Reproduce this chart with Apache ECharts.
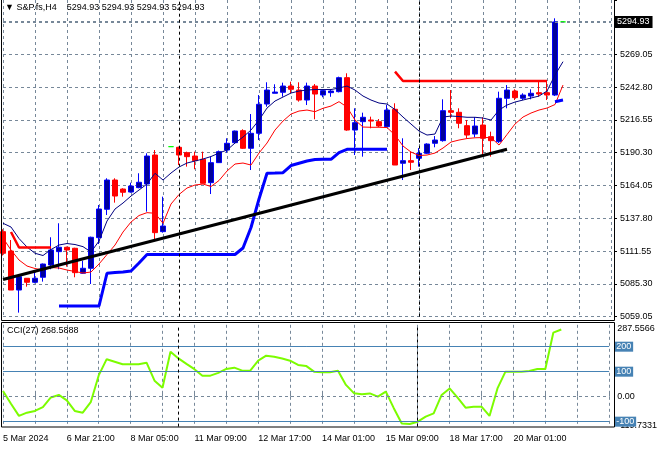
<!DOCTYPE html>
<html><head><meta charset="utf-8">
<script src="https://cdn.jsdelivr.net/npm/echarts@6/dist/echarts.min.js"></script>
<style>html,body{margin:0;padding:0;background:#fff}#c{width:660px;height:450px}</style>
</head><body><div id="c"></div>
<script>
// ---- data ----
const timeLabels = ['5 Mar 2024','6 Mar 21:00','8 Mar 05:00','11 Mar 09:00','12 Mar 17:00','14 Mar 01:00','15 Mar 09:00','18 Mar 17:00','20 Mar 01:00'];
const openP  = [5127.1,5111.6,5080.4,5089.8,5086.6,5090.6,5100.4,5111.1,5114.6,5113.8,
                5093.8,5097.8,5122.3,5145.0,5168.4,5161.2,5158.8,5162.3,5165.2,5188.4,
                5127.1,5195.1,5194.6,5190.3,5187.6,5185.0,5166.3,5182.3,5192.4,5198.3,
                5207.9,5193.8,5205.8,5229.2,5237.8,5238.6,5243.6,5240.4,5232.4,5243.6,
                5236.4,5238.3,5239.1,5250.3,5208.4,5215.1,5216.4,5215.1,5211.1,5225.0,
                5181.8,5183.9,5185.8,5189.8,5197.8,5199.9,5223.9,5222.6,5211.9,5205.2,
                5212.4,5203.1,5199.1,5233.8,5239.6,5233.8,5235.6,5238.3,5238.3,5236.4,5294.93];
const closeP = [5109.8,5080.4,5091.1,5086.6,5089.8,5101.2,5112.4,5114.6,5112.4,5094.3,
                5097.8,5122.6,5145.2,5168.4,5155.6,5158.6,5163.6,5166.6,5187.6,5126.3,
                5131.6,5195.1,5188.4,5187.1,5183.9,5165.8,5182.3,5191.1,5197.8,5207.6,
                5193.8,5205.8,5229.0,5240.4,5238.8,5243.6,5241.0,5232.4,5243.6,5237.2,
                5239.9,5239.6,5250.3,5208.4,5214.3,5218.6,5215.6,5211.6,5224.4,5180.4,
                5183.9,5182.6,5189.8,5197.2,5200.4,5223.9,5222.6,5213.8,5204.4,5211.6,
                5201.8,5199.9,5233.8,5240.4,5234.3,5236.4,5237.8,5237.2,5236.4,5294.9,5294.93];
const lowP   = [5108.0,5080.4,5062.3,5083.1,5085.8,5087.1,5097.0,5097.0,5099.1,5090.6,
                5093.4,5085.2,5117.2,5140.4,5150.3,5155.1,5158.3,5161.8,5143.1,5120.4,
                5126.3,5195.1,5180.4,5179.1,5177.0,5165.8,5157.2,5182.0,5190.3,5197.8,
                5193.4,5176.4,5200.4,5227.1,5237.8,5235.1,5237.8,5231.1,5228.4,5217.0,
                5234.6,5235.0,5238.5,5207.8,5188.4,5187.1,5209.8,5210.8,5210.8,5180.4,
                5168.4,5176.4,5179.1,5189.2,5194.6,5199.1,5217.8,5209.8,5201.8,5202.6,
                5188.4,5187.1,5198.0,5225.8,5232.4,5232.4,5233.0,5235.1,5232.4,5235.6,5294.93];
const highP  = [5129.0,5120.4,5091.5,5090.0,5095.1,5101.6,5122.6,5133.8,5115.1,5114.2,
                5103.9,5123.1,5148.4,5169.8,5169.8,5161.8,5166.3,5173.8,5189.8,5192.4,
                5155.1,5195.1,5195.1,5191.1,5191.1,5191.1,5187.1,5192.0,5201.8,5208.0,
                5209.0,5221.2,5236.4,5246.6,5245.0,5246.3,5247.1,5246.6,5246.3,5245.2,
                5240.4,5240.4,5251.1,5253.8,5225.8,5222.3,5219.1,5217.2,5228.4,5229.8,
                5201.8,5191.1,5194.0,5197.8,5203.6,5233.0,5240.4,5225.8,5216.4,5218.6,
                5218.6,5207.1,5239.1,5244.4,5241.0,5237.8,5241.0,5247.4,5247.4,5297.8,5294.93];
const upperMA = [5133.8,5130.8,5121.6,5114.8,5109.8,5108.0,5112.8,5116.4,5117.6,5116.8,
                 5115.1,5110.8,5119.6,5135.6,5145.2,5150.0,5155.6,5160.4,5165.2,5173.8,
                 5168.4,5174.0,5178.8,5182.0,5183.6,5185.2,5187.2,5190.0,5192.4,5198.0,
                 5202.8,5208.4,5216.4,5226.0,5231.6,5234.8,5238.0,5239.6,5240.4,5240.8,
                 5240.8,5240.8,5242.0,5243.6,5240.4,5235.6,5232.4,5230.0,5229.2,5224.8,
                 5218.8,5213.2,5207.6,5204.4,5205.2,5218.8,5219.6,5219.2,5218.6,5218.6,
                 5218.0,5216.4,5224.4,5228.4,5230.8,5232.4,5234.0,5235.6,5239.6,5252.4,5263.1];
const lowerMA = [5122.0,5112.4,5104.4,5099.6,5097.6,5096.4,5098.4,5098.0,5096.4,5095.2,
                 5094.0,5094.8,5101.2,5108.8,5116.4,5126.8,5134.8,5140.0,5142.3,5141.8,
                 5133.8,5149.2,5156.8,5162.0,5164.4,5165.2,5163.2,5168.0,5175.6,5181.2,
                 5182.0,5180.4,5190.0,5198.0,5208.4,5215.6,5221.2,5223.6,5224.4,5223.1,
                 5225.8,5227.6,5231.1,5226.8,5216.4,5210.8,5210.6,5210.6,5210.4,5204.4,
                 5195.6,5190.8,5188.0,5188.4,5190.0,5194.0,5198.8,5200.4,5201.6,5202.2,
                 5202.4,5202.4,5196.4,5204.8,5213.2,5218.8,5222.0,5224.4,5226.0,5228.8,5244.4];
const resistance = [null,5126.8,5114.4,5114.4,5114.4,5114.4,5114.4,null,null,null,
                    null,null,null,null,null,null,null,null,null,null,
                    null,null,null,null,null,null,null,null,null,null,
                    null,null,null,null,null,null,null,null,null,null,
                    null,null,null,null,null,null,null,null,null,5255.1,
                    5247.6,5247.6,5247.6,5247.6,5247.6,5247.6,5247.6,5247.6,5247.6,5247.6,
                    5247.6,5247.6,5247.6,5247.6,5247.6,5247.6,5247.6,5247.6,5247.6,null,null];
const support = [null,null,null,null,null,null,null,5067.6,5067.6,5067.6,
                 5067.6,5067.6,5067.6,5093.8,5094.4,5094.8,5095.6,5102.0,5108.8,5108.8,
                 5108.8,5108.8,5108.8,5108.8,5108.8,5108.8,5108.8,5108.8,5108.8,5108.8,
                 5114.0,5130.4,5153.2,5173.8,5174.0,5174.3,5180.0,5181.8,5183.6,5184.8,
                 5185.0,5185.0,5190.4,5193.0,5193.0,5193.0,5193.0,5193.0,5193.0,null,
                 null,null,null,null,null,null,null,null,null,null,
                 null,null,null,null,null,null,null,null,null,5231.1,5232.4];
const trendLine = [[0, 5088.8], [63, 5193.0]];
const cci = [23,-28,-77,-64,-57,-42,-3,7,-15,-57,
             -64,-22,85,150,140,130,130,130,136,64,
             36,180,153,131,110,84,84,95,111,116,
             104,104,144,164,160,153,144,127,123,100,
             98,98,104,47,14,10,13,0,20,-46,
             -107,-109,-100,-80,-67,7,33,-4,-44,-40,
             -40,-77,33,100,100,100,103,111,111,256,268.5888];
const bidPrice = 5294.93;
const weekStarts = [22, 52];
const cciLevels = [200, 100, -100];
const cciMax = 287.5566, cciMin = -119.7331;
const priceMin = 5059.05, priceMax = 5312.44, priceStep = 26.25;
const barCount = 77;

// ---- chart ----
const FONT = '"Liberation Sans", Arial, sans-serif';
const GRIDC = '#778899';
const cats = Array.from({length: barCount}, (_, i) => String(i));
const candles = openP.map((o, i) => [o, closeP[i], lowP[i], highP[i]]);
const txt = {fontFamily: FONT, fontSize: 9, color: '#000'};
const near = (a, b) => Math.abs(a - b) < 1e-6;

const chart = echarts.init(document.getElementById('c'), null, {renderer: 'canvas'});
chart.setOption({
  animation: false,
  backgroundColor: '#fff',
  title: [
    {text: '\u25BC S&P.fs,H4    5294.93 5294.93 5294.93 5294.93', left: 5, top: 3, padding: 0,
     textStyle: Object.assign({fontWeight: 'normal'}, txt)},
    {text: 'CCI(27) 268.5888', left: 7, top: 326, padding: 0,
     textStyle: Object.assign({fontWeight: 'normal'}, txt)}
  ],
  grid: [
    {left: 3, width: 608, top: 0, height: 316.7},
    {left: 3, width: 608, top: 324.8, height: 101.8}
  ],
  xAxis: [
    {type: 'category', gridIndex: 0, data: cats, boundaryGap: false,
     axisLine: {show: false}, axisTick: {show: false}, axisLabel: {show: false},
     splitLine: {show: true, interval: 3, lineStyle: {color: GRIDC, type: [3, 3], width: 1}}},
    {type: 'category', gridIndex: 1, data: cats, boundaryGap: false,
     axisLine: {show: false},
     axisTick: {show: true, inside: true, length: 4, interval: 3, lineStyle: {color: GRIDC}},
     axisLabel: Object.assign({interval: 0, align: 'left', margin: 7,
       formatter: (v, i) => (i % 8 === 0 && timeLabels[i / 8]) ? timeLabels[i / 8] : ''}, txt),
     splitLine: {show: true, interval: 3, lineStyle: {color: GRIDC, type: [3, 3], width: 1}}}
  ],
  yAxis: [
    {type: 'value', gridIndex: 0, position: 'right', offset: 3,
     min: priceMin, max: priceMax, interval: priceStep,
     axisLine: {show: false},
     axisTick: {show: true, length: 3, lineStyle: {color: '#000'}},
     axisLabel: Object.assign({margin: 6, formatter: v => v > 5290 ? '' : v.toFixed(2)}, txt),
     splitLine: {show: true, showMaxLine: false, lineStyle: {color: GRIDC, type: [3, 3], width: 1}}},
    {type: 'value', gridIndex: 1, position: 'right', offset: 3,
     min: cciMin, max: cciMax,
     axisLine: {show: false}, axisTick: {show: false},
     axisLabel: Object.assign({margin: 5, showMinLabel: true, showMaxLabel: true,
       formatter: v => near(v, cciMax) ? '{top|' + cciMax.toFixed(4) + '}'
                     : near(v, cciMin) ? '{bot|' + cciMin.toFixed(4) + '}'
                     : near(v, 0) ? '0.00' : '',
       rich: {top: {fontFamily: FONT, fontSize: 9, color: '#000', padding: [7, 0, 0, 0]},
              bot: {fontFamily: FONT, fontSize: 9, color: '#000', padding: [0, 0, 3, 0]}}}, txt),
     splitLine: {show: false}}
  ],
  series: [
    {type: 'candlestick', xAxisIndex: 0, yAxisIndex: 0, data: candles, barWidth: 5, clip: false,
     itemStyle: {color: '#000099', borderColor: '#0000FF', color0: '#FF0000', borderColor0: '#FF0000',
                 borderColorDoji: '#00FF00', borderWidth: 1},
     markLine: {symbol: ['none', 'none'], silent: true, animation: false,
       data: [
         {yAxis: bidPrice, lineStyle: {color: GRIDC, type: [3, 3], width: 1},
          label: Object.assign({show: true, position: 'end', distance: 3, formatter: bidPrice.toFixed(2),
                 backgroundColor: '#000', padding: [2, 3, 1, 3]}, txt, {color: '#fff'})}
       ].concat(weekStarts.map(w => ({xAxis: String(w), lineStyle: {color: '#000', type: [3, 3], width: 1},
                                     label: {show: false}})))
     }},
    {type: 'line', xAxisIndex: 0, yAxisIndex: 0, data: upperMA, showSymbol: false,
     lineStyle: {color: '#000080', width: 1}},
    {type: 'line', xAxisIndex: 0, yAxisIndex: 0, data: lowerMA, showSymbol: false,
     lineStyle: {color: '#FF0000', width: 1}},
    {type: 'line', xAxisIndex: 0, yAxisIndex: 0, data: resistance, showSymbol: false, connectNulls: false,
     lineStyle: {color: '#FF0000', width: 2.5}},
    {type: 'line', xAxisIndex: 0, yAxisIndex: 0, data: support, showSymbol: false, connectNulls: false,
     lineStyle: {color: '#0000FF', width: 3}},
    {type: 'line', xAxisIndex: 0, yAxisIndex: 0, data: trendLine, showSymbol: false,
     lineStyle: {color: '#000', width: 3}},
    {type: 'line', xAxisIndex: 1, yAxisIndex: 1, data: cci, showSymbol: false,
     lineStyle: {color: '#7CFC00', width: 2},
     markLine: {symbol: ['none', 'none'], silent: true, animation: false,
       data: [
         {yAxis: 0, lineStyle: {color: GRIDC, type: [3, 3], width: 1}, label: {show: false}}
       ].concat(cciLevels.map(v => ({yAxis: v, lineStyle: {color: '#4682B4', type: 'solid', width: 1},
          label: Object.assign({show: true, position: 'end', distance: 5, formatter: String(v),
                 backgroundColor: '#4682B4', padding: [1, 2, 0, 2]}, txt, {color: '#fff'})})))
        .concat(weekStarts.map(w => ({xAxis: String(w), lineStyle: {color: '#000', type: [3, 3], width: 1},
                                     label: {show: false}})))
     }}
  ],
  graphic: [
    {type: 'rect', silent: true, z: 100, shape: {x: 1.5, y: -1, width: 613, height: 321.5},
     style: {fill: 'none', stroke: '#000', lineWidth: 1}},
    {type: 'rect', silent: true, z: 100, shape: {x: 1.5, y: 322.5, width: 613, height: 104.5},
     style: {fill: 'none', stroke: '#000', lineWidth: 1}}
  ]
});
</script>
</body></html>
